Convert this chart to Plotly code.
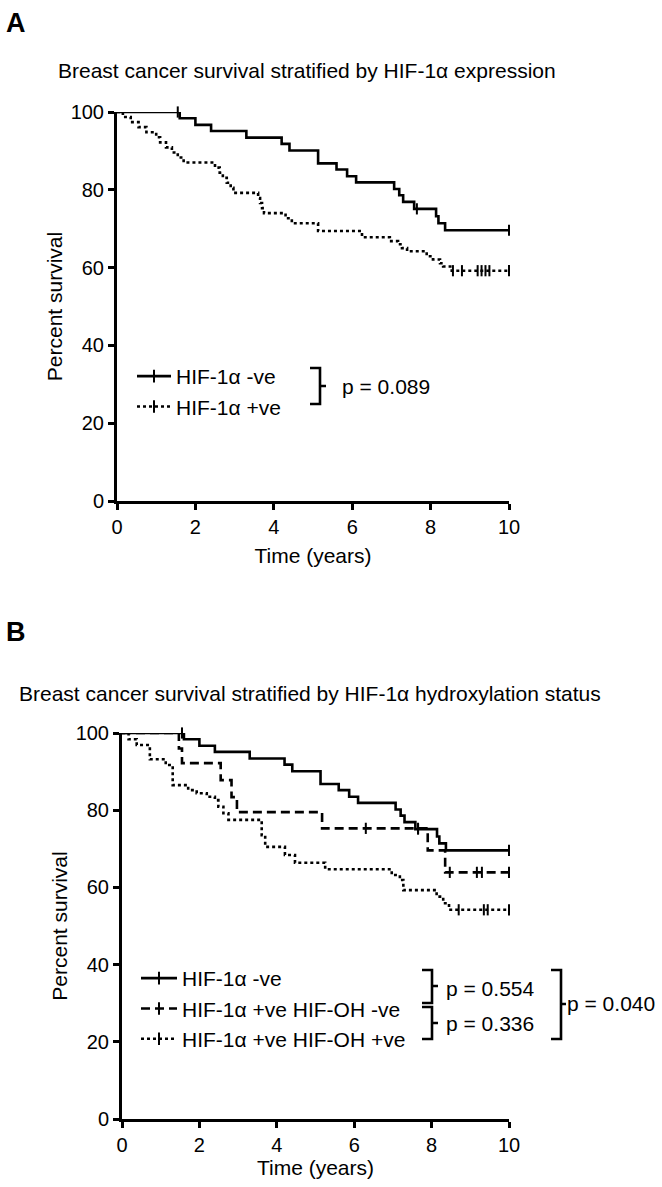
import plotly.graph_objects as go

W, H = 662, 1187
FONT = "Liberation Sans, Arial, Helvetica, sans-serif"

# ---------------- Panel A data ----------------
neg_t = [0, 1.6, 2.0, 2.4, 3.3, 4.2, 4.4, 5.13, 5.6, 5.87, 6.1, 7.07, 7.2, 7.3, 7.58, 8.14, 8.2, 8.37, 10]
neg_s = [100, 98.4, 96.7, 95.1, 93.4, 91.8, 90.1, 86.8, 85.2, 83.5, 81.9, 80.2, 78.6, 76.9, 75.1, 73.2, 71.4, 69.6, 69.6]
neg_cens_t = [1.55, 7.65, 10]
neg_cens_s = [100, 75.1, 69.6]

pos_t = [0, 0.15, 0.35, 0.55, 0.75, 1.0, 1.1, 1.25, 1.4, 1.55, 1.7, 2.5, 2.62, 2.7, 2.8, 2.9, 2.97,
         3.6, 3.65, 3.7, 3.75, 4.3, 4.46, 5.13, 6.25, 6.96, 7.17, 7.27, 7.4, 7.9, 8.06, 8.24, 8.32, 8.54, 10]
pos_s = [100, 98.7, 97.4, 96.1, 94.8, 93.5, 92.2, 90.9, 89.6, 88.3, 87.0, 85.7, 84.4, 83.1, 81.8, 80.5, 79.2,
         77.9, 76.6, 75.3, 74.0, 72.7, 71.4, 69.4, 67.8, 66.8, 66.0, 65.0, 64.2, 62.9, 62.1, 61.1, 60.3, 59.2, 59.2]
pos_cens_t = [8.57, 8.8, 9.2, 9.3, 9.4, 9.5, 10]
pos_cens_s = [59.2, 59.2, 59.2, 59.2, 59.2, 59.2, 59.2]

# ---------------- Panel B data ----------------
ohneg_t = [0, 1.47, 1.55, 2.55, 2.83, 2.97, 5.17, 7.9, 8.35, 10]
ohneg_s = [100, 96.0, 92.2, 87.8, 83.4, 79.5, 75.3, 69.6, 63.9, 63.9]
ohneg_cens_t = [6.3, 7.65, 8.47, 9.17, 9.3, 10]
ohneg_cens_s = [75.3, 75.3, 63.9, 63.9, 63.9, 63.9]

ohpos_t = [0, 0.17, 0.38, 0.72, 1.13, 1.31, 1.71, 1.93, 2.19, 2.4, 2.49, 2.62, 2.75, 3.61, 3.7,
           4.21, 4.47, 5.25, 6.97, 7.18, 7.27, 8.13, 8.3, 8.45, 10]
ohpos_s = [100, 98.4, 96.9, 93.2, 91.7, 86.5, 85.2, 84.4, 83.5, 82.6, 80.9, 79.2, 77.5, 73.5, 70.5,
           68.4, 66.4, 64.7, 63.2, 61.9, 59.3, 57.6, 55.9, 54.2, 54.2]
ohpos_cens_t = [8.7, 9.35, 9.45, 10]
ohpos_cens_s = [54.2, 54.2, 54.2, 54.2]

labels_A = ["HIF-1\u03b1 -ve", "HIF-1\u03b1 +ve"]
labels_B = ["HIF-1\u03b1 -ve", "HIF-1\u03b1 +ve HIF-OH -ve", "HIF-1\u03b1 +ve HIF-OH +ve"]
pvals_A = ["p = 0.089"]
pvals_B = ["p = 0.554", "p = 0.336", "p = 0.040"]
x_ticks = [0, 2, 4, 6, 8, 10]
y_ticks = [0, 20, 40, 60, 80, 100]

SOLID = "solid"
DASH = "9px,5px"
DOT = "3px,3px"
LW = 2.6

fig = go.Figure()


def add_curve(t, s, ct, cs, dash, name, xa, ya, legend):
    fig.add_trace(go.Scatter(x=t, y=s, mode="lines", line=dict(color="black", width=LW, dash=dash, shape="hv"),
                             xaxis=xa, yaxis=ya, showlegend=False, hoverinfo="skip"))
    fig.add_trace(go.Scatter(x=ct, y=cs, mode="markers", cliponaxis=False,
                             marker=dict(symbol="line-ns-open", size=8, color="black", line=dict(width=2, color="black")),
                             xaxis=xa, yaxis=ya, showlegend=False, hoverinfo="skip"))
    fig.add_trace(go.Scatter(x=[None], y=[None], mode="lines+markers", name=name,
                             line=dict(color="black", width=LW, dash=dash),
                             marker=dict(symbol="line-ns-open", size=9, color="black", line=dict(width=2, color="black")),
                             xaxis=xa, yaxis=ya, showlegend=True, legend=legend))


add_curve(neg_t, neg_s, neg_cens_t, neg_cens_s, SOLID, labels_A[0], "x", "y", "legend")
add_curve(pos_t, pos_s, pos_cens_t, pos_cens_s, DOT, labels_A[1], "x", "y", "legend")
add_curve(neg_t, neg_s, neg_cens_t, neg_cens_s, SOLID, labels_B[0], "x2", "y2", "legend2")
add_curve(ohneg_t, ohneg_s, ohneg_cens_t, ohneg_cens_s, DASH, labels_B[1], "x2", "y2", "legend2")
add_curve(ohpos_t, ohpos_s, ohpos_cens_t, ohpos_cens_s, DOT, labels_B[2], "x2", "y2", "legend2")


def px(x):
    return x / W


def py(y):
    return 1 - y / H


axis_common = dict(showline=True, linewidth=3, linecolor="black", ticks="outside", ticklen=6, tickwidth=3,
                   tickcolor="black", showgrid=False, zeroline=False, automargin=False,
                   tickfont=dict(family=FONT, size=20, color="black"), title_font=dict(family=FONT, size=21, color="black"))

fig.update_layout(
    width=W, height=H, margin=dict(l=0, r=0, t=0, b=0),
    paper_bgcolor="white", plot_bgcolor="white",
    font=dict(family=FONT, color="black"),
    xaxis=dict(domain=[px(117), px(509)], range=[0, 10], tickvals=x_ticks, anchor="y",
               title=dict(text="Time (years)", standoff=12), **axis_common),
    yaxis=dict(domain=[py(501), py(112)], range=[0, 100], tickvals=y_ticks, anchor="x",
               title=dict(text="Percent survival", standoff=3), **axis_common),
    xaxis2=dict(domain=[px(122), px(509)], range=[0, 10], tickvals=x_ticks, anchor="y2",
                title=dict(text="Time (years)", standoff=6), **axis_common),
    yaxis2=dict(domain=[py(1119), py(733)], range=[0, 100], tickvals=y_ticks, anchor="x2",
                title=dict(text="Percent survival", standoff=3), **axis_common),
    legend=dict(x=px(132), y=py(356), xanchor="left", yanchor="top", bgcolor="rgba(0,0,0,0)",
                font=dict(family=FONT, size=21, color="black"), tracegroupgap=0, itemwidth=34),
    legend2=dict(x=px(136), y=py(958), xanchor="left", yanchor="top", bgcolor="rgba(0,0,0,0)",
                 font=dict(family=FONT, size=21, color="black"), tracegroupgap=0, itemwidth=36),
)

ann = []
ann.append(dict(text="<b>A</b>", x=px(4), y=py(23), xref="paper", yref="paper", xanchor="left", yanchor="middle",
                showarrow=False, font=dict(family=FONT, size=27, color="black")))
ann.append(dict(text="<b>B</b>", x=px(4), y=py(632), xref="paper", yref="paper", xanchor="left", yanchor="middle",
                showarrow=False, font=dict(family=FONT, size=27, color="black")))
ann.append(dict(text="Breast cancer survival stratified by HIF-1\u03b1 expression", x=px(56), y=py(70),
                xref="paper", yref="paper", xanchor="left", yanchor="middle", showarrow=False,
                font=dict(family=FONT, size=21, color="black")))
ann.append(dict(text="Breast cancer survival stratified by HIF-1\u03b1 hydroxylation status", x=px(17), y=py(693),
                xref="paper", yref="paper", xanchor="left", yanchor="middle", showarrow=False,
                font=dict(family=FONT, size=21, color="black")))
ann.append(dict(text=pvals_A[0], x=px(340), y=py(386), xref="paper", yref="paper", xanchor="left", yanchor="middle",
                showarrow=False, font=dict(family=FONT, size=21, color="black")))
ann.append(dict(text=pvals_B[0], x=px(444), y=py(988), xref="paper", yref="paper", xanchor="left", yanchor="middle",
                showarrow=False, font=dict(family=FONT, size=21, color="black")))
ann.append(dict(text=pvals_B[1], x=px(444), y=py(1023), xref="paper", yref="paper", xanchor="left", yanchor="middle",
                showarrow=False, font=dict(family=FONT, size=21, color="black")))
ann.append(dict(text=pvals_B[2], x=px(565), y=py(1004), xref="paper", yref="paper", xanchor="left", yanchor="middle",
                showarrow=False, font=dict(family=FONT, size=21, color="black")))
fig.update_layout(annotations=ann)


def bracket(x0, x1, x2, ytop, ybot, ymid):
    path = (f"M {px(x0)},{py(ytop)} L {px(x1)},{py(ytop)} L {px(x1)},{py(ybot)} L {px(x0)},{py(ybot)} "
            f"M {px(x1)},{py(ymid)} L {px(x2)},{py(ymid)}")
    fig.add_shape(type="path", path=path, xref="paper", yref="paper", line=dict(color="black", width=2.6))


bracket(310, 320, 326, 368, 404, 386)
bracket(422, 432, 438, 970, 1003, 986)
bracket(422, 432, 438, 1007, 1039, 1023)
bracket(551, 561, 566, 970, 1039, 1004)

fig.write_html("out.html", config={"displayModeBar": False, "staticPlot": True})

# remove the default page margin so the figure sits at the window origin
with open("out.html", "r", encoding="utf-8") as f:
    html = f.read()
html = html.replace("<head>", "<head><style>html,body{margin:0;padding:0;overflow:hidden;}</style>", 1)
with open("out.html", "w", encoding="utf-8") as f:
    f.write(html)
